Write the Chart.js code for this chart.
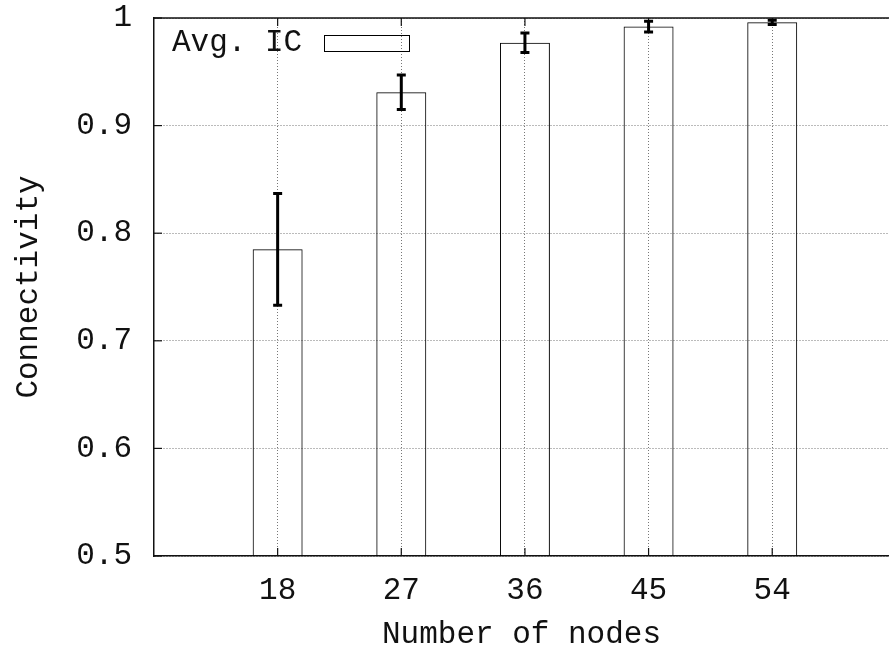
<!DOCTYPE html>
<html>
<head>
<meta charset="utf-8">
<script src="https://cdn.jsdelivr.net/npm/chart.js@4.4.1/dist/chart.umd.min.js"></script>
<style>
html,body{margin:0;padding:0;background:#fff;}
#wrap{width:889px;height:655px;}
</style>
</head>
<body>
<div id="wrap"><canvas id="c" width="889" height="655"></canvas></div>
<script>
const nodes = [18, 27, 36, 45, 54];
const avgIC = [0.785, 0.931, 0.977, 0.992, 0.996];
const icErr = [0.052, 0.016, 0.009, 0.005, 0.002];
const yTickLabels = ['0.5', '0.6', '0.7', '0.8', '0.9', '1'];
const seriesLabel = 'Avg. IC';
const xTitle = 'Number of nodes';
const yTitle = 'Connectivity';

const FONT = 'Liberation Mono, Courier New, monospace';
const FS = 31;
const INK = '#111';

const gnuplotDecor = {
  id: 'gnuplotDecor',
  afterDatasetsDraw(chart) {
    const {ctx, chartArea: a, scales: {x, y}} = chart;
    ctx.save();
    // top border
    ctx.strokeStyle = INK;
    ctx.lineWidth = 1.5;
    ctx.beginPath();
    ctx.moveTo(a.left, a.top);
    ctx.lineTo(a.right, a.top);
    ctx.stroke();
    // inward tick marks
    ctx.lineWidth = 1.2;
    const tl = 8;
    y.ticks.forEach(t => {
      const py = y.getPixelForValue(t.value);
      ctx.beginPath();
      ctx.moveTo(a.left, py);
      ctx.lineTo(a.left + tl, py);
      ctx.stroke();
    });
    x.ticks.forEach(t => {
      const px = x.getPixelForValue(t.value);
      ctx.beginPath();
      ctx.moveTo(px, a.bottom);
      ctx.lineTo(px, a.bottom - tl);
      ctx.moveTo(px, a.top);
      ctx.lineTo(px, a.top + tl);
      ctx.stroke();
    });
    // error bars
    ctx.strokeStyle = '#000';
    ctx.lineWidth = 3;
    nodes.forEach((n, i) => {
      const px = x.getPixelForValue(n);
      const yt = y.getPixelForValue(avgIC[i] + icErr[i]);
      const yb = y.getPixelForValue(avgIC[i] - icErr[i]);
      ctx.beginPath();
      ctx.moveTo(px, yt);
      ctx.lineTo(px, yb);
      ctx.moveTo(px - 4.5, yt);
      ctx.lineTo(px + 4.5, yt);
      ctx.moveTo(px - 4.5, yb);
      ctx.lineTo(px + 4.5, yb);
      ctx.stroke();
    });
    // legend (text then sample box, gnuplot style)
    const ds = chart.data.datasets[0];
    ctx.font = FS + 'px ' + FONT;
    ctx.fillStyle = INK;
    ctx.textBaseline = 'middle';
    ctx.textAlign = 'left';
    const lx = a.left + 18, ly = a.top + 25;
    ctx.fillText(ds.label, lx, ly);
    const tw = ctx.measureText(ds.label).width;
    ctx.lineWidth = 1;
    ctx.strokeStyle = '#000';
    ctx.strokeRect(Math.round(lx + tw + 22) + 0.5, Math.round(ly - 8) + 0.5, 85, 16);
    ctx.restore();
  }
};

new Chart(document.getElementById('c'), {
  type: 'bar',
  data: {
    datasets: [{
      label: seriesLabel,
      data: nodes.map((n, i) => ({x: n, y: avgIC[i]})),
      backgroundColor: 'rgba(255,255,255,0)',
      borderColor: '#000',
      borderWidth: 1,
      categoryPercentage: 1,
      barPercentage: 0.404
    }]
  },
  options: {
    responsive: false,
    animation: false,
    layout: {padding: {top: 18, right: 0, left: 0, bottom: 0}},
    plugins: {legend: {display: false}, tooltip: {enabled: false}},
    scales: {
      x: {
        type: 'linear',
        min: 9,
        max: 62.5,
        offset: false,
        afterBuildTicks: s => { s.ticks = nodes.map(v => ({value: v})); },
        afterFit: s => { s.height = 99; s.paddingLeft = 0; s.paddingRight = 0; },
        ticks: {
          font: {family: FONT, size: FS},
          color: INK,
          padding: 16,
          maxRotation: 0,
          callback: v => String(v)
        },
        grid: {color: '#777', lineWidth: 1, drawTicks: false, offset: false},
        border: {display: true, color: INK, width: 1.5, dash: [1, 2]},
        title: {display: true, text: xTitle, font: {family: FONT, size: FS}, color: INK, padding: {top: 0, bottom: 2}}
      },
      y: {
        min: 0.5,
        max: 1,
        afterBuildTicks: s => { s.ticks = yTickLabels.map(v => ({value: parseFloat(v)})); },
        afterFit: s => { s.width = 154; s.paddingTop = 0; s.paddingBottom = 0; },
        ticks: {
          font: {family: FONT, size: FS},
          color: INK,
          padding: 22,
          callback: (v, i) => yTickLabels[i]
        },
        grid: {color: '#777', lineWidth: 1, drawTicks: false},
        border: {display: true, color: INK, width: 1.5, dash: [1, 2]},
        title: {display: true, text: yTitle, font: {family: FONT, size: FS}, color: INK, padding: {top: 10, bottom: 0}}
      }
    }
  },
  plugins: [gnuplotDecor]
});
</script>
</body>
</html>
